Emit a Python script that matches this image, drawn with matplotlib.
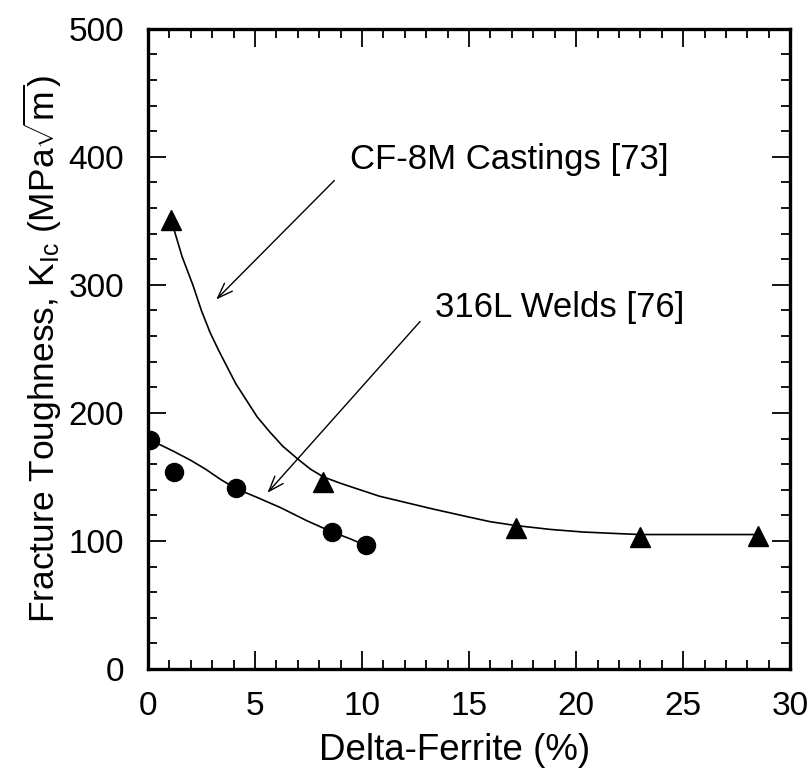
import numpy as np
import matplotlib
matplotlib.use("Agg")
import matplotlib.pyplot as plt
from matplotlib.ticker import MultipleLocator

plt.rcParams['font.family'] = ['Liberation Sans', 'DejaVu Sans']
plt.rcParams['mathtext.fontset'] = 'custom'
plt.rcParams['mathtext.rm'] = 'Liberation Sans'
plt.rcParams['mathtext.it'] = 'Liberation Sans:italic'

# CF-8M castings [73] - measured points
cast_x = [1.1, 8.2, 17.2, 23.0, 28.5]
cast_y = [351, 146, 110, 103, 104]
# trend line
cast_fit_x = [1.1, 1.35, 1.6, 1.85, 2.1, 2.5, 2.9, 3.3, 3.7, 4.1, 4.6, 5.1, 5.7, 6.3, 7.0, 7.6,
              8.2, 9.0, 9.9, 10.8, 11.8, 13.3, 14.9, 16.0, 17.2, 18.8, 20.3, 21.6, 23.0, 25.8, 28.5]
cast_fit_y = [350, 336, 322, 311, 300, 280, 263, 249, 236, 223, 210, 197, 185, 174, 164, 156,
              150, 145, 140, 135, 131, 125, 119, 115, 112, 109, 107, 106, 105, 105, 105]

# 316L welds [76]
weld_x = [0.1, 1.2, 4.1, 8.6, 10.2]
weld_y = [179, 154, 141, 107, 97]
weld_fit_x = [0.1, 1.2, 2.0, 2.7, 3.4, 4.1, 5.1, 6.2, 7.4, 8.6, 9.4, 10.1]
weld_fit_y = [179, 170, 163, 156, 148, 141, 134, 126, 116, 107, 102, 97]

fig = plt.figure(figsize=(8.08, 7.77), dpi=100)
ax = fig.add_axes([0.183, 0.139, 0.795, 0.824])

ax.plot(cast_fit_x, cast_fit_y, color='black', lw=1.2)
ax.plot(weld_fit_x, weld_fit_y, color='black', lw=1.2)
ax.plot(cast_x, cast_y, linestyle='none', marker='^', color='black', markersize=14)
ax.plot(weld_x, weld_y, linestyle='none', marker='o', color='black', markersize=13)

arrow = dict(arrowstyle='->,head_length=1.1,head_width=0.4', color='black', lw=1.0)
ax.annotate('', xy=(3.1, 287), xytext=(8.8, 383), arrowprops=arrow)
ax.annotate('', xy=(5.5, 136), xytext=(12.8, 273), arrowprops=arrow)
ax.text(9.45, 398, 'CF-8M Castings [73]', fontsize=25, va='center', ha='left')
ax.text(13.4, 282, '316L Welds [76]', fontsize=25, va='center', ha='left')

ax.set_xlim(0, 30)
ax.set_ylim(0, 500)
ax.xaxis.set_major_locator(MultipleLocator(5))
ax.xaxis.set_minor_locator(MultipleLocator(1))
ax.yaxis.set_major_locator(MultipleLocator(100))
ax.yaxis.set_minor_locator(MultipleLocator(20))
ax.tick_params(which='both', direction='in', top=True, right=True, labelsize=24, width=1.3)
ax.tick_params(which='major', length=13)
ax.tick_params(which='minor', length=6.5)
ax.tick_params(axis='y', which='major', pad=17)
ax.tick_params(axis='x', which='major', pad=16)
for s in ax.spines.values():
    s.set_linewidth(2.4)

ax.set_xlabel('Delta-Ferrite (%)', fontsize=26.5, va='center')
ax.xaxis.set_label_coords(0.478, -0.127)
ax.set_ylabel(r'Fracture Toughness, K$_{\rm Ic}$ (MPa$\sqrt{\rm m}$)', fontsize=25.5, labelpad=3)

fig.savefig('out.png', dpi=100)
